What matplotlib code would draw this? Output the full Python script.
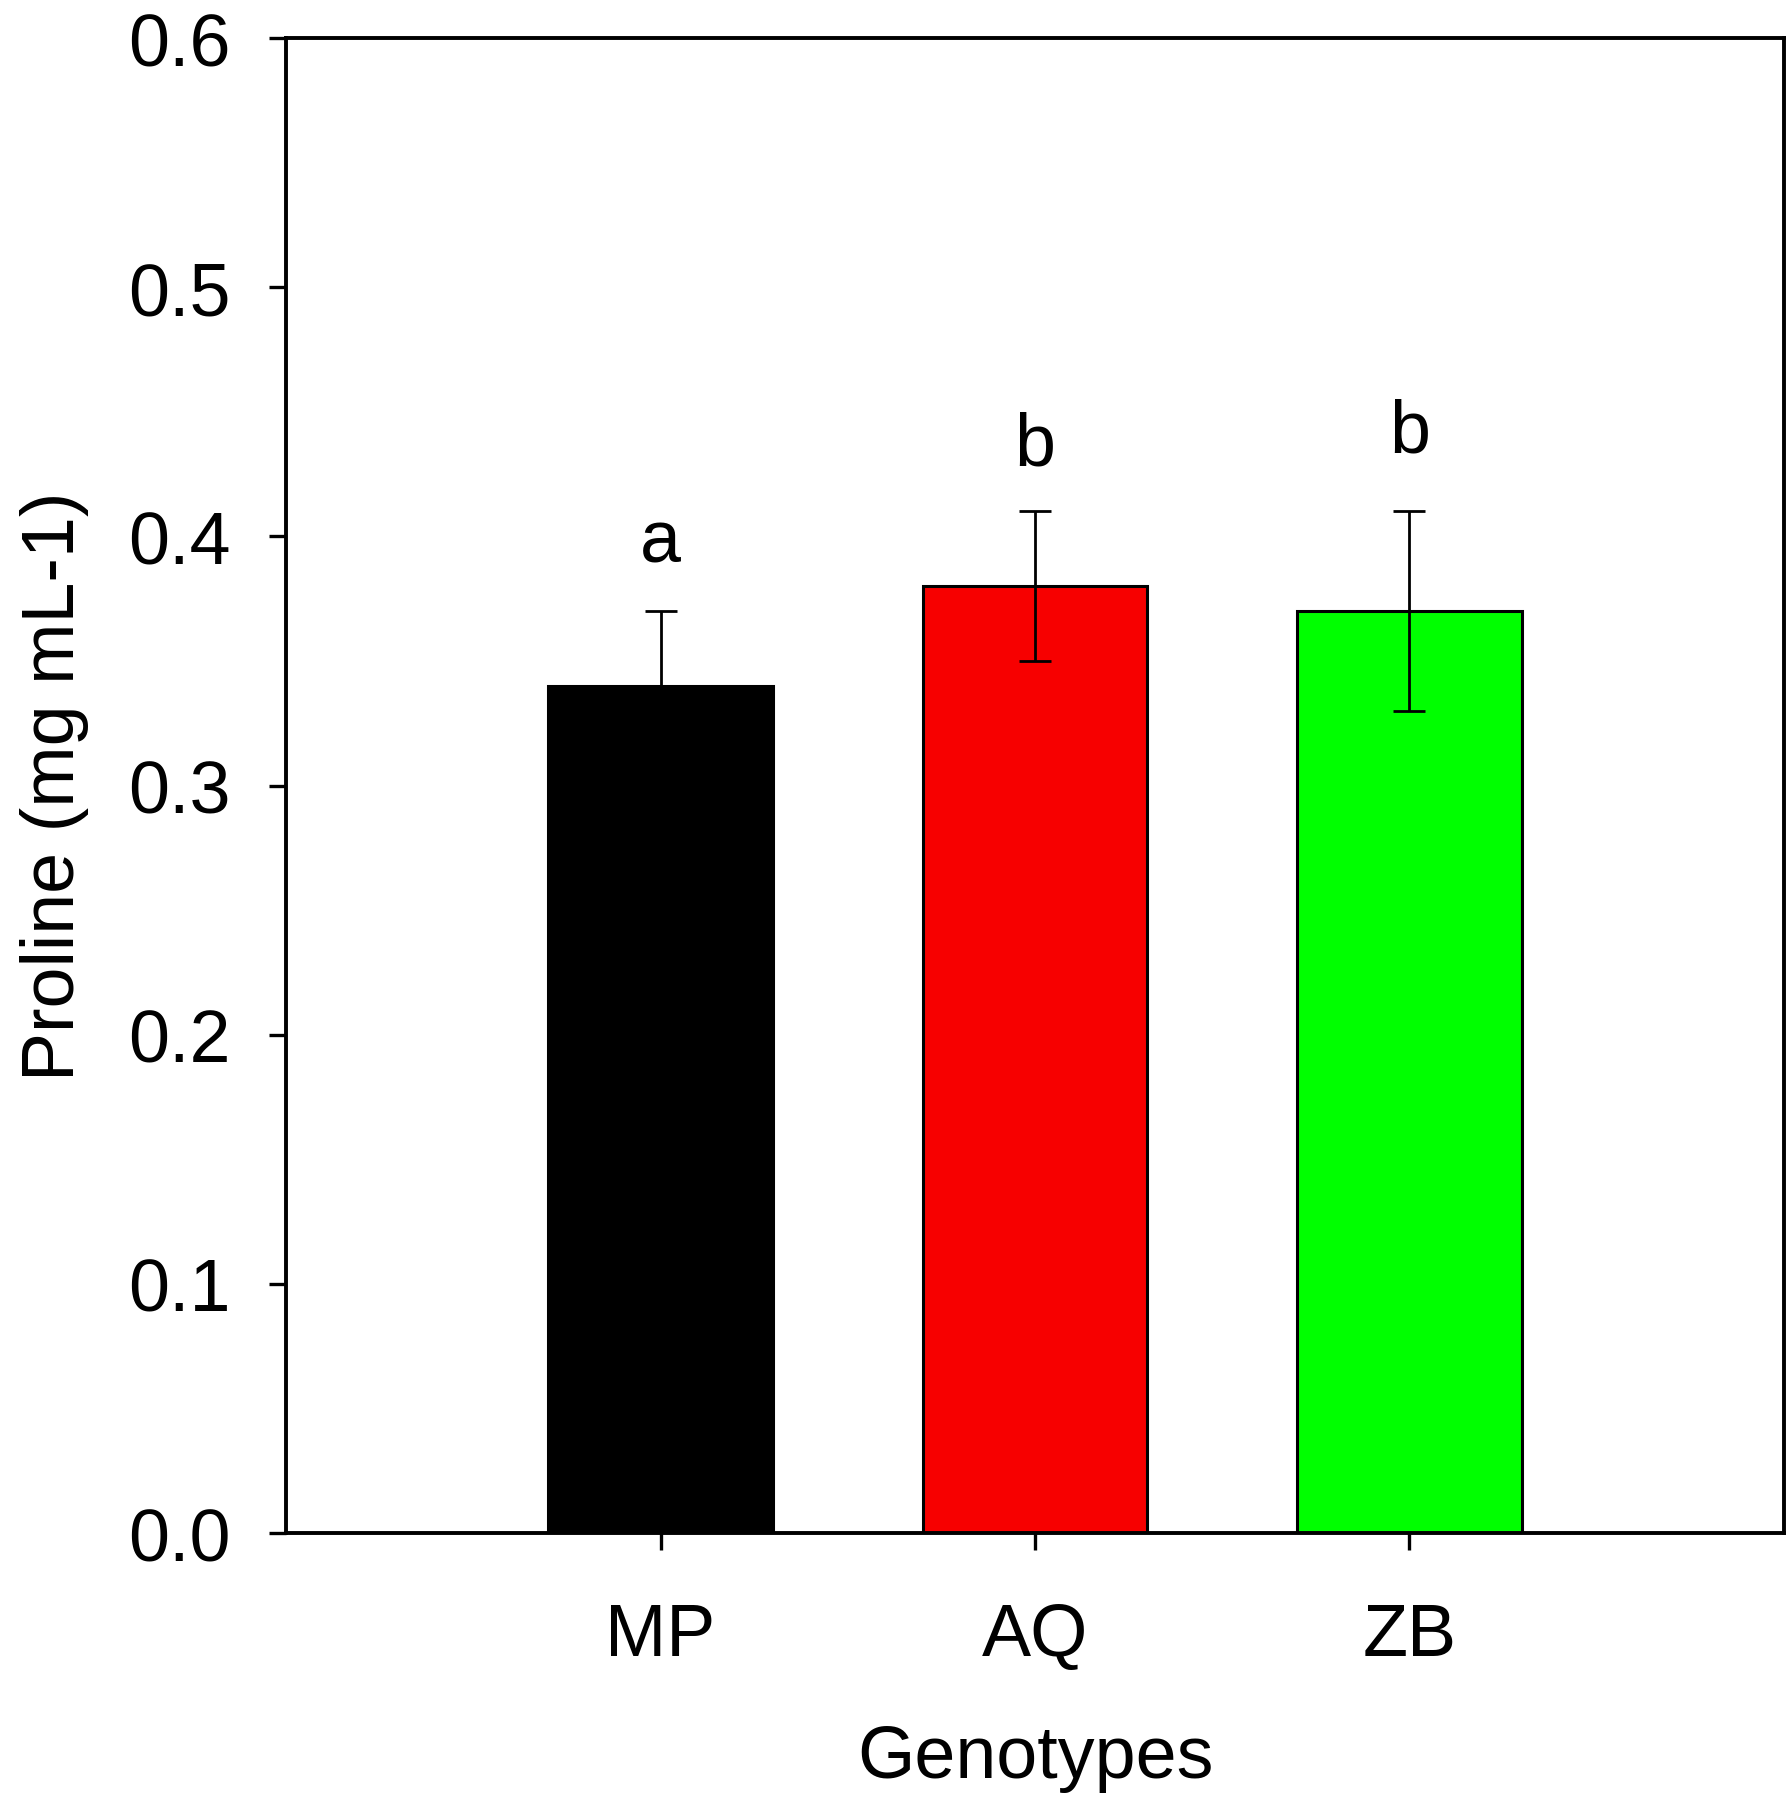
import matplotlib
matplotlib.use('Agg')
import matplotlib.pyplot as plt

genotypes = ['MP', 'AQ', 'ZB']
proline = [0.34, 0.38, 0.37]
errors = [0.03, 0.03, 0.04]
bar_colors = ['#000000', '#f70000', '#00ff00']
letters = ['a', 'b', 'b']
letter_y = [0.390, 0.429, 0.434]

plt.rcParams['font.family'] = ['Liberation Sans', 'DejaVu Sans']
plt.rcParams['font.size'] = 53

fig = plt.figure(figsize=(17.9, 18.06), dpi=100)
ax = fig.add_axes([0.1598, 0.1506, 0.9966 - 0.1598, 0.9784 - 0.1506])

x = range(1, len(genotypes) + 1)
ax.bar(x, proline, width=0.6, color=bar_colors, edgecolor='black', linewidth=2.2, zorder=2)
ax.errorbar(x, proline, yerr=errors, fmt='none', ecolor='black', elinewidth=2.0,
            capsize=11.5, capthick=2.0, zorder=3)

for xi, lab, ly in zip(x, letters, letter_y):
    ax.text(xi, ly, lab, ha='center', va='baseline', fontsize=53)

ax.set_xlim(0, 4)
ax.set_ylim(0, 0.6)
ax.set_xticks(list(x))
ax.set_xticklabels(genotypes)
ax.set_yticks([0.0, 0.1, 0.2, 0.3, 0.4, 0.5, 0.6])
ax.set_yticklabels(['0.0', '0.1', '0.2', '0.3', '0.4', '0.5', '0.6'])

for s in ax.spines.values():
    s.set_linewidth(2.8)
ax.tick_params(axis='both', direction='out', length=12.2, width=2.4, top=False, right=False)
ax.tick_params(axis='y', pad=28)
ax.tick_params(axis='x', pad=37)

ax.set_xlabel('Genotypes', labelpad=38)
ax.set_ylabel('Proline (mg mL-1)', labelpad=28)

fig.savefig('out.png', dpi=100)
